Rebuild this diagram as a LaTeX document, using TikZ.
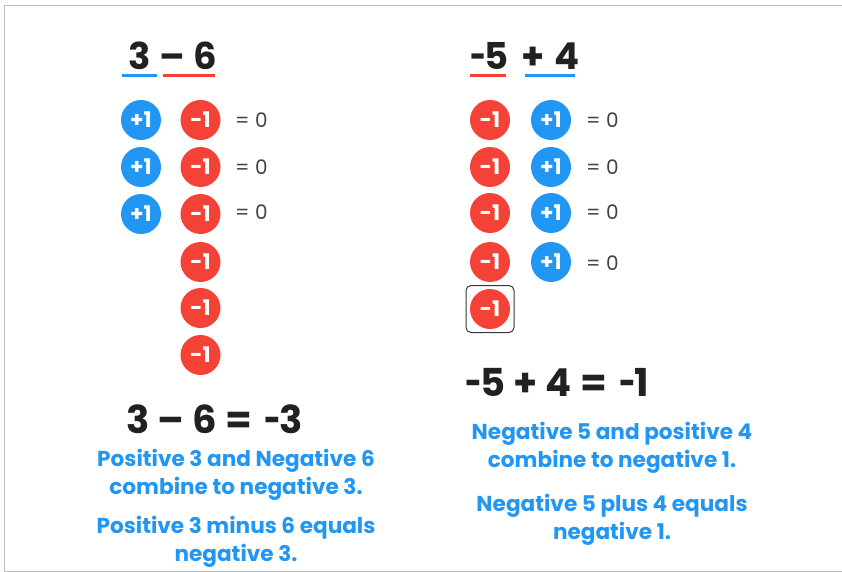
\documentclass[tikz,border=0pt]{standalone}
\usepackage{fontspec}
\setmainfont{Poppins}
\definecolor{cblue}{HTML}{2196F3}
\definecolor{cred}{HTML}{F44336}
\definecolor{ink}{HTML}{212121}
\definecolor{frame}{HTML}{BDBDBD}
\newcommand{\hy}{\makebox[0.4em][l]{\scalebox{0.75}[1]{-}}}
\tikzset{
  chip/.style={circle, minimum size=40pt, inner sep=0pt, text=white, font=\fontsize{21.5}{21.5}\selectfont\bfseries},
  poschip/.style={chip, fill=cblue},
  negchip/.style={chip, fill=cred},
  zero/.style={anchor=west, inner sep=0pt, text=ink!85, font=\fontsize{20}{20}\selectfont},
  title/.style={anchor=base, inner sep=0pt, text=ink, font=\fontsize{37}{37}\selectfont\bfseries},
  result/.style={inner sep=0pt, text=ink, font=\fontsize{38.5}{38.5}\selectfont\bfseries},
  expl/.style={inner sep=0pt, text=cblue, align=center, font=\fontsize{21.6}{28}\selectfont\bfseries},
  uline/.style={line width=3pt},
}
\begin{document}
\begin{tikzpicture}[x=1pt,y=-1pt]
\useasboundingbox (0,0) rectangle (842,572);
\draw[frame, line width=1pt] (4,6) rectangle (860,571);
% left title
\node[title] (t3) at (139.5,70) {3};
\node[title] (tm) at (172.5,70) {–};
\node[title] (t6) at (205.5,70) {6};
\coordinate (ub1) at (122,75.5); \coordinate (ub2) at (157,75.5);
\coordinate (ur1) at (163,75.5); \coordinate (ur2) at (215,75.5);
\draw[uline, cblue] (ub1) -- (ub2);
\draw[uline, cred] (ur1) -- (ur2);
% left chips
\node[poschip] (lp1) at (141,120) {+1};
\node[poschip] (lp2) at (141,167) {+1};
\node[poschip] (lp3) at (141,214) {+1};
\node[negchip] (ln1) at (200.5,120) {-1};
\node[negchip] (ln2) at (200.5,167) {-1};
\node[negchip] (ln3) at (200.5,214) {-1};
\node[negchip] (ln4) at (200.5,262) {-1};
\node[negchip] (ln5) at (200.5,308) {-1};
\node[negchip] (ln6) at (200.5,355) {-1};
\node[zero] (lz1) at (235,120) {= 0};
\node[zero] (lz2) at (235,167) {= 0};
\node[zero] (lz3) at (235,212) {= 0};
% right title
\node[title] (r5) at (489.5,70) {\hy 5};
\node[title] (rp) at (533,70) {+};
\node[title] (r4) at (567.5,70) {4};
\coordinate (vr1) at (470,75.5); \coordinate (vr2) at (506,75.5);
\coordinate (vb1) at (525,75.5); \coordinate (vb2) at (575,75.5);
\draw[uline, cred] (vr1) -- (vr2);
\draw[uline, cblue] (vb1) -- (vb2);
% right chips
\node[negchip] (rn1) at (490,120) {-1};
\node[negchip] (rn2) at (490,167) {-1};
\node[negchip] (rn3) at (490,213) {-1};
\node[negchip] (rn4) at (490,262) {-1};
\node[negchip] (rn5) at (490,309) {-1};
\node[poschip] (rq1) at (551,120) {+1};
\node[poschip] (rq2) at (551,167) {+1};
\node[poschip] (rq3) at (551,213) {+1};
\node[poschip] (rq4) at (551,262) {+1};
\node[zero] (rz1) at (586,120) {= 0};
\node[zero] (rz2) at (586,167) {= 0};
\node[zero] (rz3) at (586,212) {= 0};
\node[zero] (rz4) at (586,263) {= 0};
\node[draw=ink!90, line width=1pt, rounded corners=5pt, minimum width=48pt, minimum height=47pt, inner sep=0pt] (box) at (490,309) {};
% results
\node[result] (lres) at (214.5,419) {3 – 6 =\hspace{4pt} \hy 3};
\node[result] (rres) at (557,382) {\hy 5 + 4 =\hspace{4pt} \hy 1};
\node[expl] (le1) at (236,474.5) {Positive 3 and Negative 6\\combine to negative 3.};
\node[expl] (le2) at (236,541.5) {Positive 3 minus 6 equals\\negative 3.};
\node[expl] (re1) at (612,448) {Negative 5 and positive 4\\combine to negative 1.};
\node[expl] (re2) at (612,520) {Negative 5 plus 4 equals\\negative 1.};
\end{tikzpicture}
\end{document}
